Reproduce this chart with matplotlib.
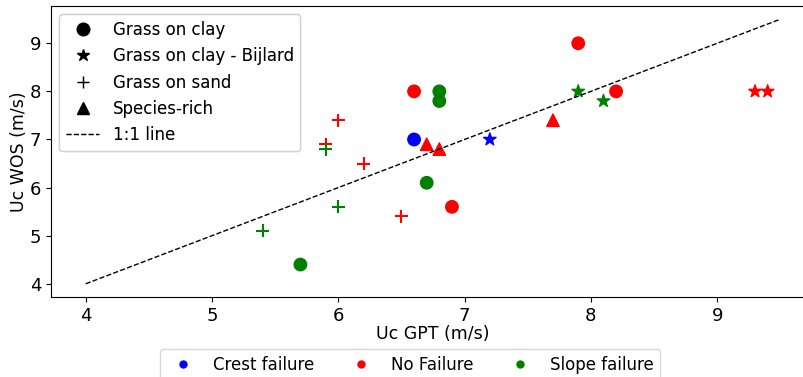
## plot.py: critical velocity GPT vs WOS, scatter by grass type and failure
# -----------------------------------------------------------------------------
from matplotlib import pyplot as plt
from matplotlib.lines import Line2D

# -----------------------------------------------------------------------------
# data: (Uc GPT, Uc WOS, failure) per grass type
clay_gpt = [6.6, 6.6, 7.9, 8.2, 6.9, 6.8, 6.8, 6.7, 5.7]
clay_wos = [7.0, 8.0, 9.0, 8.0, 5.6, 8.0, 7.8, 6.1, 4.4]
clay_fail = ['Crest', 'No', 'No', 'No', 'No', 'Slope', 'Slope', 'Slope', 'Slope']

bijlard_gpt = [7.2, 7.9, 8.1, 9.3, 9.4]
bijlard_wos = [7.0, 8.0, 7.8, 8.0, 8.0]
bijlard_fail = ['Crest', 'Slope', 'Slope', 'No', 'No']

sand_gpt = [6.0, 5.9, 6.2, 6.5, 5.9, 6.0, 5.4]
sand_wos = [7.4, 6.9, 6.5, 5.4, 6.8, 5.6, 5.1]
sand_fail = ['No', 'No', 'No', 'No', 'Slope', 'Slope', 'Slope']

rich_gpt = [6.7, 6.8, 7.7]
rich_wos = [6.9, 6.8, 7.4]
rich_fail = ['No', 'No', 'No']

line_11 = [4, 9.5]

types = ['Grass on clay', 'Grass on clay - Bijlard', 'Grass on sand', 'Species-rich']
failures = ['Crest', 'No', 'Slope']
failure_labels = ['Crest failure', 'No Failure', 'Slope failure']

# -----------------------------------------------------------------------------
markers = {'Grass on clay': 'o', 'Grass on clay - Bijlard': '*',
           'Grass on sand': '+', 'Species-rich': '^'}
sizes = {'o': 80, '*': 90, '+': 90, '^': 80}
colors = {'Crest': 'blue', 'No': 'red', 'Slope': 'green'}

groups = [
    ('Grass on clay', clay_gpt, clay_wos, clay_fail),
    ('Grass on clay - Bijlard', bijlard_gpt, bijlard_wos, bijlard_fail),
    ('Grass on sand', sand_gpt, sand_wos, sand_fail),
    ('Species-rich', rich_gpt, rich_wos, rich_fail),
]

fig = plt.figure(figsize=(8.04, 3.77), dpi=100)
ax = fig.add_axes([51/804, 80/377, 764/804, 291/377])

for name, xs, ys, fails in groups:
    mk = markers[name]
    ax.scatter(xs, ys, marker=mk, s=sizes[mk], c=[colors[f] for f in fails])

ax.plot(line_11, line_11, 'k--', linewidth=1)

ax.set_xlabel('Uc GPT (m/s)', fontsize=12.5, labelpad=0)
ax.set_ylabel('Uc WOS (m/s)', fontsize=12.5, labelpad=1)
ax.tick_params(labelsize=13)

# legend 1: grass types (black markers) + 1:1 line
type_handles = [Line2D([], [], marker=markers[t], color='k', linestyle='',
                       markersize=9) for t in types]
type_handles.append(Line2D([], [], color='k', linestyle='--', linewidth=1))
leg1 = ax.legend(type_handles, types + ['1:1 line'], loc='upper left', fontsize=12)
ax.add_artist(leg1)

# legend 2: failure mode colours, below the axes
fail_handles = [Line2D([], [], marker='o', color=colors[f], linestyle='',
                       markersize=5) for f in failures]
fig.legend(fail_handles, failure_labels, ncol=3, loc='upper center',
           bbox_to_anchor=(410/804, 1 - 341/377), fontsize=12,
           columnspacing=1.8)

fig.savefig('out.png', dpi=100)
